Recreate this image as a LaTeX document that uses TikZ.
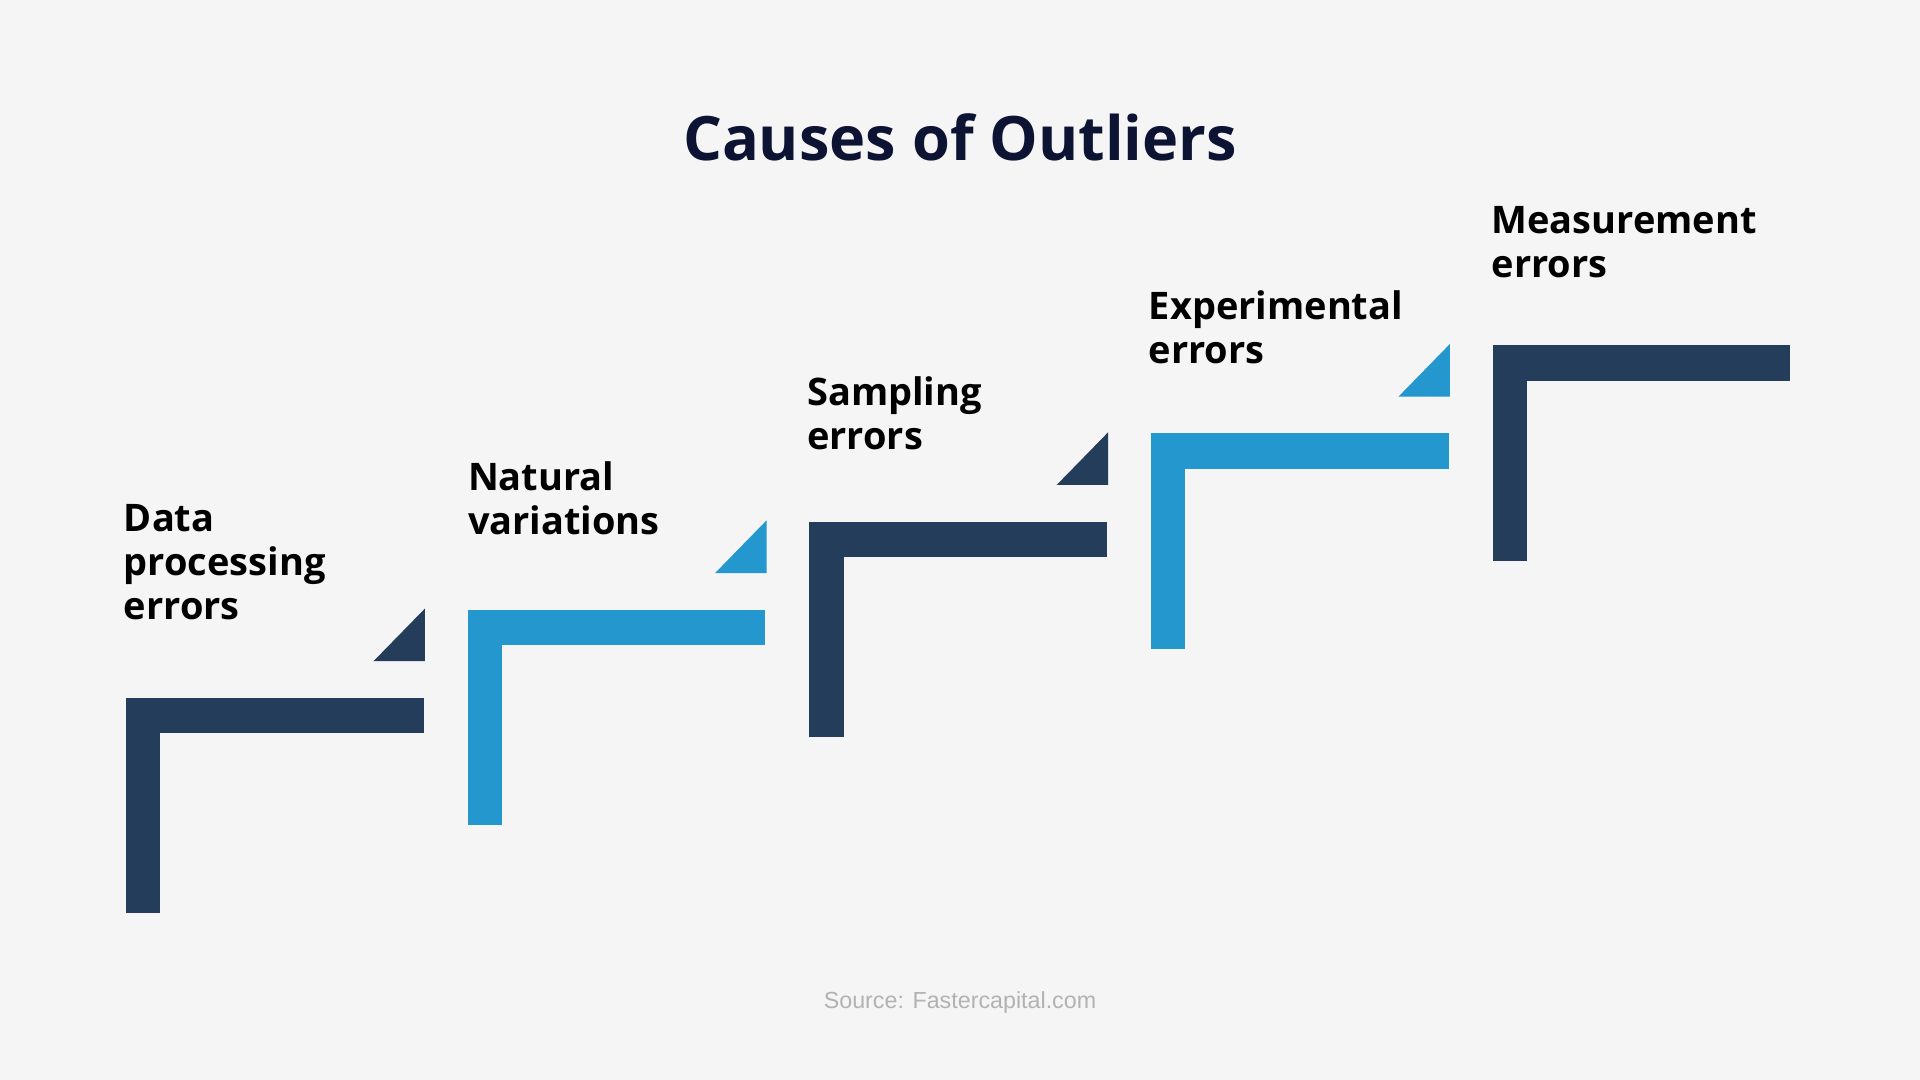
\documentclass[tikz,border=0pt]{standalone}
\usepackage{fontspec}
\setmainfont{Open Sans}
\newfontfamily\srcfont{Liberation Sans}
\usetikzlibrary{positioning}
\definecolor{navy}{HTML}{233D5A}
\definecolor{sky}{HTML}{2497CF}
\definecolor{titleink}{HTML}{0D1433}
\definecolor{paper}{HTML}{F5F5F5}
\begin{document}
\begin{tikzpicture}[x=1pt,y=-1pt,
    steplabel/.style={anchor=north west, inner sep=0pt, align=left,
      font=\fontsize{31}{36}\selectfont\bfseries}]
  \fill[paper] (0,0) rectangle (1568,882);
  \useasboundingbox (0,0) rectangle (1568,882);
  \node[font=\fontsize{50}{60}\selectfont\bfseries, text=titleink] (title) at (784,112) {Causes of Outliers};
  % steps
  \foreach \i/\col in {0/navy,1/sky,2/navy,3/sky,4/navy} {
    \begin{scope}[shift={(279*\i,-72*\i)}]
      \fill[\col] (103,570) rectangle (131,746);
      \fill[\col] (103,570) rectangle (346,599);
    \end{scope}
  }
  \foreach \i/\col in {0/navy,1/sky,2/navy,3/sky} {
    \begin{scope}[shift={(279*\i,-72*\i)}]
      \fill[\col] (305,540) -- (347,540) -- (347,497) -- cycle;
    \end{scope}
  }
  \node[steplabel] (data) at (101,412) {Data\\processing\\errors};
  \node[steplabel] (natural) at (382,377) {Natural\\variations};
  \node[steplabel] (sampling) at (659,307) {Sampling\\errors};
  \node[steplabel] (experimental) at (938,237) {Experimental\\errors};
  \node[steplabel] (measurement) at (1218,168) {Measurement\\errors};
  \node[font=\srcfont\fontsize{19}{22}\selectfont, text=black!30] (source) at (784,819) {Source: Fastercapital.com};
\end{tikzpicture}
\end{document}
